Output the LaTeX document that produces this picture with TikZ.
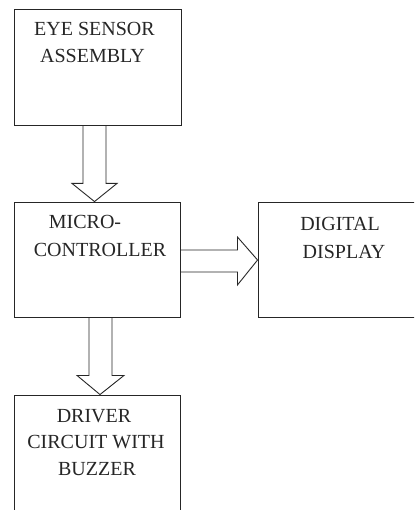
\documentclass[tikz,border=0pt]{standalone}
\usepackage{fontspec}
\setmainfont{Liberation Serif}
\usetikzlibrary{calc}
\begin{document}
\begin{tikzpicture}[x=1pt,y=-1pt,
  blk/.style={draw=black!85, line width=0.9pt, rectangle, inner sep=0pt},
  barrow/.style={draw=black!85, line width=0.9pt, line join=miter},
  lbl/.style={anchor=base, inner sep=0pt, font=\fontsize{20}{27}\selectfont, text=black!85}]
\useasboundingbox (0,0) rectangle (414,510);
\clip (0,0) rectangle (414,510);
% boxes
\node[blk, minimum width=167pt, minimum height=116pt] (b1) at (97.5,67) {};
\node[blk, minimum width=166pt, minimum height=115pt] (b2) at (97,259.5) {};
\node[blk, minimum width=172pt, minimum height=115pt] (b3) at (344,259.5) {};
\node[blk, minimum width=166pt, minimum height=124pt] (b4) at (97,457) {};
% labels
\node[lbl] (t1a) at (94.5,36) {EYE SENSOR};
\node[lbl] (t1b) at (92.5,63) {ASSEMBLY};
\node[lbl] (t2a) at (85,229) {MICRO-};
\node[lbl] (t2b) at (100,256) {CONTROLLER};
\node[lbl] (t3a) at (340,230) {DIGITAL};
\node[lbl] (t3b) at (344,258) {DISPLAY};
\node[lbl] (t4a) at (94,422) {DRIVER};
\node[lbl] (t4b) at (96,448) {CIRCUIT WITH};
\node[lbl] (t4c) at (97,475) {BUZZER};
% block arrow: eye sensor -> microcontroller
\draw[barrow] ($(b1.south)+(-14.5,0)$) -- ++(0,58) -- ++(-11,0)
  -- ($(b2.north)+(-2.5,0)$) -- ($(b1.south)+(19.5,58)$) -- ++(-11,0) -- ($(b1.south)+(8.5,0)$);
% block arrow: microcontroller -> display
\draw[barrow] ($(b2.east)+(0,-9.5)$) -- ++(57,0) -- ++(0,-13)
  -- ($(b3.west)+(0,0.5)$) -- ($(b2.east)+(57,25.5)$) -- ++(0,-13) -- ($(b2.east)+(0,12.5)$);
% block arrow: microcontroller -> driver
\draw[barrow] ($(b2.south)+(-8,0)$) -- ++(0,58) -- ++(-12,0)
  -- ($(b4.north)+(3,0)$) -- ($(b2.south)+(27,58)$) -- ++(-12,0) -- ($(b2.south)+(15,0)$);
\end{tikzpicture}
\end{document}
